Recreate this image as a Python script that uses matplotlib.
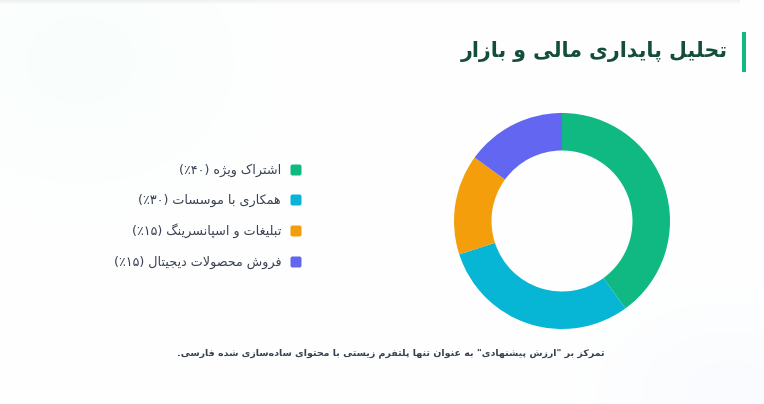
import numpy as np
import matplotlib
matplotlib.use("Agg")
import matplotlib.pyplot as plt
from matplotlib.patches import FancyBboxPatch, Rectangle

# داده‌ها
title = "تحلیل پایداری مالی و بازار"
labels = [
    "اشتراک ویژه (۴۰٪)",
    "همکاری با موسسات (۳۰٪)",
    "تبلیغات و اسپانسرینگ (۱۵٪)",
    "فروش محصولات دیجیتال (۱۵٪)",
]
values = [40, 30, 15, 15]
colors = ["#10b981", "#06b6d4", "#f59e0b", "#6366f1"]
footnote = 'تمرکز بر "ارزش پیشنهادی" به عنوان تنها پلتفرم زیستی با محتوای ساده\u200cسازی شده فارسی.'

# --- شکل‌دهی حروف فارسی (matplotlib خودش این کار را نمی‌کند) ---
# isolated, final, initial, medial
FORMS = {
    "\u0627": (0xFE8D, 0xFE8E, None, None),
    "\u0622": (0xFE81, 0xFE82, None, None),
    "\u0628": (0xFE8F, 0xFE90, 0xFE91, 0xFE92),
    "\u067E": (0xFB56, 0xFB57, 0xFB58, 0xFB59),
    "\u062A": (0xFE95, 0xFE96, 0xFE97, 0xFE98),
    "\u062B": (0xFE99, 0xFE9A, 0xFE9B, 0xFE9C),
    "\u062C": (0xFE9D, 0xFE9E, 0xFE9F, 0xFEA0),
    "\u0686": (0xFB7A, 0xFB7B, 0xFB7C, 0xFB7D),
    "\u062D": (0xFEA1, 0xFEA2, 0xFEA3, 0xFEA4),
    "\u062E": (0xFEA5, 0xFEA6, 0xFEA7, 0xFEA8),
    "\u062F": (0xFEA9, 0xFEAA, None, None),
    "\u0630": (0xFEAB, 0xFEAC, None, None),
    "\u0631": (0xFEAD, 0xFEAE, None, None),
    "\u0632": (0xFEAF, 0xFEB0, None, None),
    "\u0698": (0xFB8A, 0xFB8B, None, None),
    "\u0633": (0xFEB1, 0xFEB2, 0xFEB3, 0xFEB4),
    "\u0634": (0xFEB5, 0xFEB6, 0xFEB7, 0xFEB8),
    "\u0635": (0xFEB9, 0xFEBA, 0xFEBB, 0xFEBC),
    "\u0636": (0xFEBD, 0xFEBE, 0xFEBF, 0xFEC0),
    "\u0637": (0xFEC1, 0xFEC2, 0xFEC3, 0xFEC4),
    "\u0638": (0xFEC5, 0xFEC6, 0xFEC7, 0xFEC8),
    "\u0639": (0xFEC9, 0xFECA, 0xFECB, 0xFECC),
    "\u063A": (0xFECD, 0xFECE, 0xFECF, 0xFED0),
    "\u0641": (0xFED1, 0xFED2, 0xFED3, 0xFED4),
    "\u0642": (0xFED5, 0xFED6, 0xFED7, 0xFED8),
    "\u06A9": (0xFB8E, 0xFB8F, 0xFB90, 0xFB91),
    "\u06AF": (0xFB92, 0xFB93, 0xFB94, 0xFB95),
    "\u0644": (0xFEDD, 0xFEDE, 0xFEDF, 0xFEE0),
    "\u0645": (0xFEE1, 0xFEE2, 0xFEE3, 0xFEE4),
    "\u0646": (0xFEE5, 0xFEE6, 0xFEE7, 0xFEE8),
    "\u0648": (0xFEED, 0xFEEE, None, None),
    "\u0647": (0xFEE9, 0xFEEA, 0xFEEB, 0xFEEC),
    "\u06CC": (0xFBFC, 0xFBFD, 0xFBFE, 0xFBFF),
}
MIRROR = {"(": ")", ")": "(", "[": "]", "]": "["}


def dual(c):
    return c in FORMS and FORMS[c][2] is not None


def fa(text):
    out = []
    n = len(text)
    i = 0
    while i < n:
        c = text[i]
        if c not in FORMS:
            if c != "\u200c":
                out.append(c)
            i += 1
            continue
        prev = text[i - 1] if i > 0 else ""
        joins_prev = dual(prev)
        # لام + الف
        if c == "\u0644" and i + 1 < n and text[i + 1] == "\u0627":
            out.append(chr(0xFEFC if joins_prev else 0xFEFB))
            i += 2
            continue
        nxt = text[i + 1] if i + 1 < n else ""
        joins_next = dual(c) and nxt in FORMS
        iso, fin, ini, med = FORMS[c]
        if joins_prev and joins_next:
            g = med
        elif joins_prev:
            g = fin
        elif joins_next:
            g = ini
        else:
            g = iso
        out.append(chr(g))
        i += 1
    # راست به چپ: معکوس، آینه کردن پرانتزها، اعداد چپ به راست
    vis = [MIRROR.get(c, c) for c in reversed(out)]
    res = []
    run = []
    for c in vis:
        if c.isdigit():
            run.append(c)
        else:
            res.extend(reversed(run))
            run = []
            res.append(c)
    res.extend(reversed(run))
    return "".join(res)


plt.rcParams["font.family"] = ["DejaVu Sans"]

W, H = 764, 404
fig = plt.figure(figsize=(W / 100, H / 100), dpi=100)
fig.patch.set_facecolor("white")

# پس‌زمینه با هاله‌های بسیار کم‌رنگ
bg = fig.add_axes([0, 0, 1, 1])
yy, xx = np.mgrid[0:H, 0:W]
img = np.ones((H, W, 3))
g1 = np.exp(-(((xx - 80) / 150.0) ** 2 + ((yy - 60) / 120.0) ** 2))
g2 = np.exp(-(((xx - 730) / 120.0) ** 2 + ((yy - 390) / 80.0) ** 2))
c1 = np.array([0.93, 0.99, 0.97])
c2 = np.array([0.95, 0.97, 1.0])
for k in range(3):
    img[..., k] = img[..., k] - g1 * (1 - c1[k]) * 0.32 - g2 * (1 - c2[k]) * 0.45
top = np.clip(1 - yy / 4.0, 0, 1) * (xx < 740)
img = img - top[..., None] * 0.05
bg.imshow(img, extent=[0, W, H, 0], aspect="auto")
bg.set_xlim(0, W)
bg.set_ylim(H, 0)
bg.axis("off")

# عنوان و نوار سبز
bg.add_patch(Rectangle((742, 32), 4, 40, color="#10b981", lw=0))
bg.text(728, 51, fa(title), ha="right", va="center", fontsize=14.8,
        fontweight="bold", color="#134e3a")

# راهنما
ys = [170, 200, 231, 262]
for lab, col, y in zip(labels, colors, ys):
    bg.add_patch(FancyBboxPatch((290.5, y - 5.5), 11, 11,
                                boxstyle="round,pad=0,rounding_size=2",
                                color=col, lw=0))
    bg.text(281, y, fa(lab), ha="right", va="center", fontsize=9.2,
            color="#374151")

# پانویس
bg.text(391, 353, fa(footnote), ha="center", va="center", fontsize=6.8,
        fontweight="bold", color="#374151")

# نمودار دونات
cx, cy, box = 562, 221, 240
ax = fig.add_axes([(cx - box / 2) / W, (H - cy - box / 2) / H, box / W, box / H])
ax.pie(values, colors=colors, startangle=90, counterclock=False,
       radius=1.08, wedgeprops=dict(width=0.375, linewidth=0))
ax.set_xlim(-1.2, 1.2)
ax.set_ylim(-1.2, 1.2)
ax.set_aspect("equal")
ax.axis("off")

fig.savefig("out.png", dpi=100)
